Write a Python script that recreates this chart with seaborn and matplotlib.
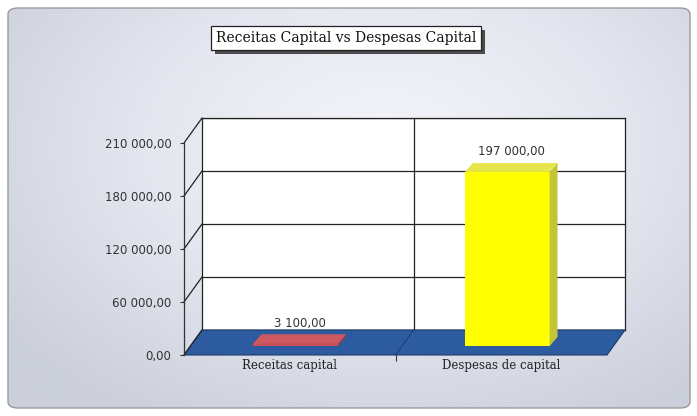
import numpy as np
import pandas as pd
import matplotlib
matplotlib.use('Agg')
import matplotlib.pyplot as plt
import matplotlib.patheffects as pe
from matplotlib.colors import LinearSegmentedColormap
from matplotlib.patches import FancyBboxPatch, Polygon
from matplotlib.lines import Line2D
import seaborn as sns

# data
categories = ['Receitas capital', 'Despesas de capital']
values = [3100, 197000]
value_labels = ['3 100,00', '197 000,00']
bar_colors = ['#c9505b', '#ffff00']
side_colors = ['#9a3e47', '#c4c43a']
top_colors = ['#cd5963', '#e6e64a']
ytick_values = [0, 60000, 120000, 180000, 240000]
ytick_labels = ['0,00', '60 000,00', '120 000,00', '180 000,00', '210 000,00']
title = 'Receitas Capital vs Despesas Capital'

W, H = 697, 416
sns.set_theme(style='white')
plt.rcParams['font.family'] = ['DejaVu Sans']

fig = plt.figure(figsize=(W / 100, H / 100), dpi=100)
fig.patch.set_facecolor('white')


def px(left, top, right, bottom):
    # pixel box -> figure fraction rect
    return [left / W, 1 - bottom / H, (right - left) / W, (bottom - top) / H]


to_fig = fig.transFigure.inverted()

# background panel with soft gradient
bg = fig.add_axes([0, 0, 1, 1], zorder=0)
bg.set_xlim(0, 1)
bg.set_ylim(0, 1)
bg.set_axis_off()
yy, xx = np.mgrid[0:1:200j, 0:1:300j]
r = np.sqrt(((xx - 0.55) / 0.8) ** 2 + ((yy - 0.35) / 0.9) ** 2)
cmap = LinearSegmentedColormap.from_list('bg', ['#f4f5f9', '#e4e7ef', '#cbcfdb'])
img = bg.imshow(r, cmap=cmap, extent=(0, 1, 0, 1), aspect='auto', vmin=0, vmax=0.85)
frame = FancyBboxPatch((8 / W, 8 / H), 682 / W, 400 / H,
                       boxstyle='round,pad=0,rounding_size=0.015',
                       transform=bg.transAxes, fc='none', ec='#9a9a9a', lw=1)
bg.add_patch(frame)
img.set_clip_path(frame)

# back wall
back = fig.add_axes(px(202, 118, 625, 330), zorder=1)
back.set_facecolor('white')
back.set_xlim(-0.5, 1.5)
back.set_ylim(0, 240000)
for v in ytick_values:
    back.axhline(v, color='#222222', lw=0.9)
back.axvline(0.5, color='#222222', lw=0.9)
back.set_xticks([])
back.set_yticks([])
for s in back.spines.values():
    s.set_color('#222222')
    s.set_linewidth(0.9)

# front plane: axis, tick labels, category labels
ax = fig.add_axes(px(184, 143, 607, 355), zorder=2)
ax.patch.set_alpha(0)
ax.set_xlim(-0.5, 1.5)
ax.set_ylim(0, 240000)
for k in ['top', 'right', 'bottom']:
    ax.spines[k].set_visible(False)
ax.spines['left'].set_color('#333333')
ax.spines['left'].set_linewidth(0.9)
ax.set_yticks(ytick_values)
ax.set_yticklabels(ytick_labels, fontsize=8.5, color='#333333')
ax.set_xticks([0, 1])
ax.set_xticklabels(categories, fontsize=8.5, family='DejaVu Serif', color='#222222')
ax.set_xticks([0.5], minor=True)
ax.tick_params(axis='y', left=True, length=3, width=0.8, color='#333333', pad=6)
ax.tick_params(axis='x', which='major', bottom=False, length=0, pad=3)
ax.tick_params(axis='x', which='minor', bottom=True, length=4, width=0.8, color='#333333')

# floor and side lines linking front axis to back wall
fl = [ax.transData.transform((-0.5, 0)), ax.transData.transform((1.5, 0)),
      back.transData.transform((1.5, 0)), back.transData.transform((-0.5, 0))]
fig.add_artist(Polygon(to_fig.transform(fl), closed=True, transform=fig.transFigure,
                       fc='#2c5c9f', ec='#1d3c6c', lw=0.8, zorder=1.5))
mid = to_fig.transform([ax.transData.transform((0.5, 0)), back.transData.transform((0.5, 0))])
fig.add_artist(Line2D(mid[:, 0], mid[:, 1], transform=fig.transFigure,
                      color='#1d3c6c', lw=0.7, zorder=1.6))
for v in ytick_values:
    seg = to_fig.transform([ax.transData.transform((-0.5, v)), back.transData.transform((-0.5, v))])
    fig.add_artist(Line2D(seg[:, 0], seg[:, 1], transform=fig.transFigure,
                          color='#222222', lw=0.9, zorder=1.6))

# bars at mid depth
bars_ax = fig.add_axes(px(190, 134, 613, 346), zorder=3)
df = pd.DataFrame({'categoria': categories, 'valor': values})
sns.barplot(data=df, x='categoria', y='valor', hue='categoria', palette=bar_colors,
            width=0.4, saturation=1, legend=False, linewidth=0, ax=bars_ax)
bars_ax.set_xlim(-0.5, 1.5)
bars_ax.set_ylim(0, 240000)
bars_ax.set_axis_off()

dx, dy = 8, 9
for i, p in enumerate(bars_ax.patches):
    x0, y0 = p.get_x(), p.get_y()
    x1, y1 = x0 + p.get_width(), y0 + p.get_height()
    a = bars_ax.transData.transform([(x0, y0), (x1, y0), (x1, y1), (x0, y1)])
    side = [a[1], a[2], a[2] + (dx, dy), a[1] + (dx, dy)]
    top = [a[3], a[2], a[2] + (dx, dy), a[3] + (dx, dy)]
    fig.add_artist(Polygon(to_fig.transform(side), transform=fig.transFigure,
                           fc=side_colors[i], ec='none', zorder=3.5))
    fig.add_artist(Polygon(to_fig.transform(top), transform=fig.transFigure,
                           fc=top_colors[i], ec='none', zorder=3.5))
    bars_ax.annotate(value_labels[i], (p.get_x() + p.get_width() / 2, y1),
                     xytext=(dx / 2, 20), textcoords='offset pixels',
                     ha='center', va='center', fontsize=8.5, color='#333333')

# title box with drop shadow
t = fig.text(346 / W, 1 - 38 / H, title, ha='center', va='center',
             family='DejaVu Serif', fontsize=10, color='#111111', zorder=5,
             bbox=dict(boxstyle='square,pad=0.35', fc='white', ec='#222222', lw=0.9))
t.get_bbox_patch().set_path_effects([
    pe.SimplePatchShadow(offset=(3, -3), shadow_rgbFace='#3a3a3a', alpha=0.9),
    pe.Normal()])

fig.savefig('out.png', dpi=100)
